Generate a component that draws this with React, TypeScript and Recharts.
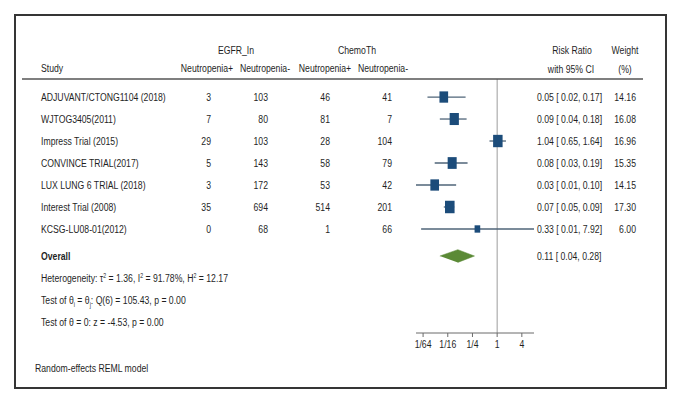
import React from "react";
import { ComposedChart, Scatter, XAxis, YAxis, ReferenceLine } from "recharts";

const FONT = "'Liberation Sans', Arial, sans-serif";
const TEXT = "#1f1f1f";
const BLUE = "#1c4c7a";
const CI_LINE = "#4f6478";
const GREEN = "#5b8a36";
const SX = 0.755; // narrow-font look

const studies = [
  "ADJUVANT/CTONG1104 (2018)",
  "WJTOG3405(2011)",
  "Impress Trial (2015)",
  "CONVINCE TRIAL(2017)",
  "LUX LUNG 6 TRIAL (2018)",
  "Interest Trial (2008)",
  "KCSG-LU08-01(2012)",
];
const egfrPos = [3, 7, 29, 5, 3, 35, 0];
const egfrNeg = [103, 80, 103, 143, 172, 694, 68];
const chemoPos = [46, 81, 28, 58, 53, 514, 1];
const chemoNeg = [41, 7, 104, 79, 42, 201, 66];
const riskRatio = [0.05, 0.09, 1.04, 0.08, 0.03, 0.07, 0.33];
const ciLow = [0.02, 0.04, 0.65, 0.03, 0.0105, 0.05, 0.014];
const ciHigh = [0.17, 0.18, 1.64, 0.19, 0.1, 0.09, 7.92];
const weights = [14.16, 16.08, 16.96, 15.35, 14.15, 17.3, 6.0];

const overallRR = 0.11;
const overallLow = 0.04;
const overallHigh = 0.28;
const overallRow = 7.23;

const xTicks = [1 / 64, 1 / 16, 1 / 4, 1, 4];
const xTickLabels = ["1/64", "1/16", "1/4", "1", "4"];

const xMin = Math.min(...ciLow);
const xMax = Math.max(...ciHigh);

// column anchors (px)
const COL_RIGHT = [211, 268, 330, 392];
const CI_X = 537;
const WEIGHT_RIGHT = 636;
const DIAMOND_HALF = 0.29;

const fmt = (v: number) => v.toFixed(2);
const ciText = (r: number, l: number, h: number) => `${fmt(r)} [ ${fmt(l)}, ${fmt(h)}]`;

const rows = studies.map((name, i) => ({
  x: riskRatio[i],
  y: i,
  name,
  cols: [egfrPos[i], egfrNeg[i], chemoPos[i], chemoNeg[i]],
  lo: ciLow[i],
  hi: ciHigh[i],
  w: weights[i],
}));

function T({ x, y, anchor = "start", size = 11.5, bold = false, dy, children }: any) {
  return (
    <text
      transform={`translate(${x},${y}) scale(${SX},1)`}
      dy={dy}
      textAnchor={anchor}
      fontFamily={FONT}
      fontSize={size}
      fill={TEXT}
      fontWeight={bold ? "bold" : undefined}
    >
      {children}
    </text>
  );
}

function StudyShape(props: any) {
  const { cx, cy, payload } = props;
  const s = Math.sqrt(payload.w);
  const w = 2.3 * s;
  const h = 3.0 * s;
  return (
    <g>
      <rect x={cx - w / 2} y={cy - h / 2} width={w} height={h} fill={BLUE} />
      <T x={41} y={cy} dy="0.35em">{payload.name}</T>
      {payload.cols.map((v: number, k: number) => (
        <T key={k} x={COL_RIGHT[k]} y={cy} dy="0.35em" anchor="end">{v}</T>
      ))}
      <T x={CI_X} y={cy} dy="0.35em">{ciText(payload.x, payload.lo, payload.hi)}</T>
      <T x={WEIGHT_RIGHT} y={cy} dy="0.35em" anchor="end">{payload.w.toFixed(2)}</T>
    </g>
  );
}

function OverallLabel(props: any) {
  const { cy } = props;
  return (
    <g>
      <T x={41} y={cy} dy="0.35em" bold>Overall</T>
      <T x={CI_X} y={cy} dy="0.35em">{ciText(overallRR, overallLow, overallHigh)}</T>
    </g>
  );
}

function Tick(props: any) {
  const { x, y, payload } = props;
  return (
    <T x={x} y={y} dy="0.75em" anchor="middle" size={11.5}>
      {xTickLabels[xTicks.indexOf(payload.value)]}
    </T>
  );
}

const Empty = () => <g />;

export default function App() {
  const diamond = [
    { x: overallLow, y: overallRow },
    { x: overallRR, y: overallRow - DIAMOND_HALF },
    { x: overallHigh, y: overallRow },
    { x: overallRR, y: overallRow + DIAMOND_HALF },
  ];
  return (
    <div style={{ position: "absolute", left: 0, top: 0, width: 682, height: 404, background: "#fff" }}>
      <ComposedChart width={682} height={404} margin={{ top: 79, right: 148, bottom: 41, left: 416 }}>
        <XAxis
          type="number"
          dataKey="x"
          scale="log"
          domain={[xMin, xMax]}
          ticks={xTicks}
          interval={0}
          height={30}
          tick={<Tick />}
          stroke="#6b6b6b"
          tickSize={4}
        />
        <YAxis type="number" dataKey="y" domain={[-0.82, 10.73]} reversed hide />
        <ReferenceLine x={1} stroke="#9c9c9c" strokeWidth={1} />
        {rows.map((r, i) => (
          <Scatter
            key={i}
            data={[{ x: r.lo, y: r.y }, { x: r.hi, y: r.y }]}
            line={{ stroke: CI_LINE, strokeWidth: 1.3 }}
            shape={Empty}
            isAnimationActive={false}
          />
        ))}
        <Scatter data={rows} shape={StudyShape} isAnimationActive={false} />
        <Scatter
          data={diamond}
          line={{ stroke: GREEN, fill: GREEN, strokeWidth: 0.5 }}
          shape={Empty}
          isAnimationActive={false}
        />
        <Scatter data={[{ x: overallRR, y: overallRow }]} shape={OverallLabel} isAnimationActive={false} />
      </ComposedChart>
      <svg width={682} height={404} style={{ position: "absolute", left: 0, top: 0, pointerEvents: "none" }}>
        <rect x={15} y={15} width={651} height={373} fill="none" stroke="#353535" strokeWidth={2} />
        <line x1={22} x2={643} y1={79} y2={79} stroke="#555" strokeWidth={1.3} />
        <T x={236} y={54} anchor="middle">EGFR_In</T>
        <T x={357} y={54} anchor="middle">ChemoTh</T>
        <T x={41} y={72}>Study</T>
        <T x={207} y={72} anchor="middle">Neutropenia+</T>
        <T x={265} y={72} anchor="middle">Neutropenia-</T>
        <T x={325} y={72} anchor="middle">Neutropenia+</T>
        <T x={383} y={72} anchor="middle">Neutropenia-</T>
        <T x={572} y={54} anchor="middle">Risk Ratio</T>
        <T x={571} y={73} anchor="middle">with 95% CI</T>
        <T x={625} y={54} anchor="middle">Weight</T>
        <T x={625} y={73} anchor="middle">(%)</T>
        <T x={41} y={282} size={11.5}>
          Heterogeneity: τ<tspan dy={-4} fontSize={7}>2</tspan>
          <tspan dy={4}> = 1.36, I</tspan><tspan dy={-4} fontSize={7}>2</tspan>
          <tspan dy={4}> = 91.78%, H</tspan><tspan dy={-4} fontSize={7}>2</tspan>
          <tspan dy={4}> = 12.17</tspan>
        </T>
        <T x={41} y={304} size={11.5}>
          Test of θ<tspan dy={3} fontSize={7}>i</tspan>
          <tspan dy={-3}> = θ</tspan><tspan dy={3} fontSize={7}>j</tspan>
          <tspan dy={-3}>: Q(6) = 105.43, p = 0.00</tspan>
        </T>
        <T x={41} y={326} size={11.5}>Test of θ = 0: z = -4.53, p = 0.00</T>
        <T x={35} y={372} size={11.5}>Random-effects REML model</T>
      </svg>
    </div>
  );
}
